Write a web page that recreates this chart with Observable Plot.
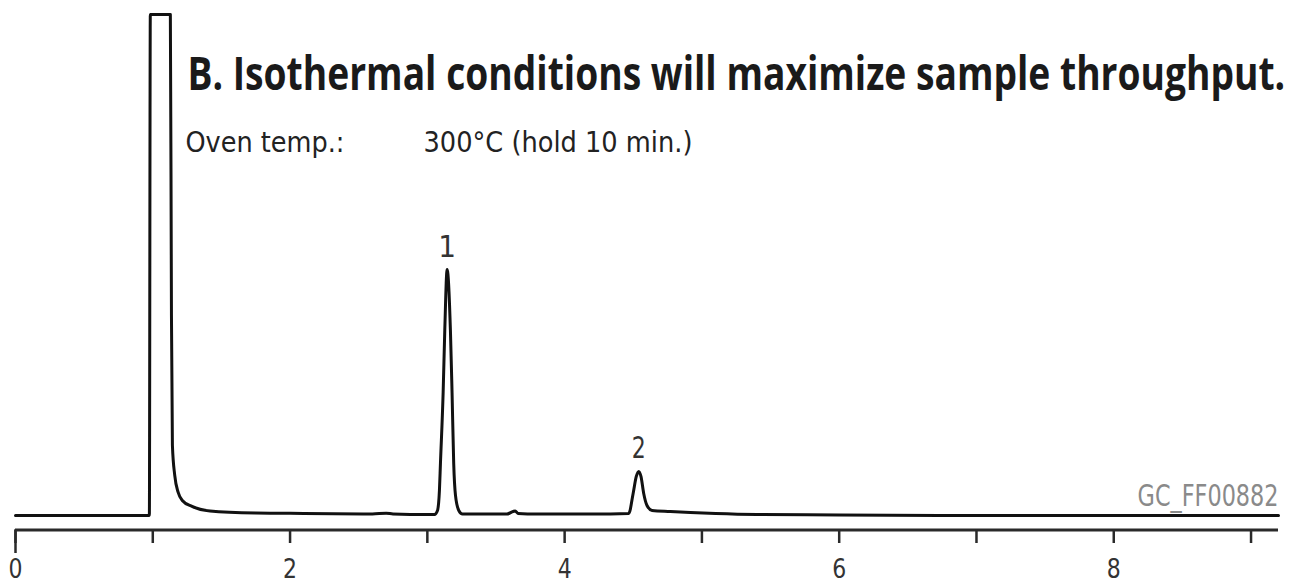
<!DOCTYPE html>
<html><head><meta charset="utf-8">
<script src="https://cdn.jsdelivr.net/npm/d3@7"></script>
<script src="https://cdn.jsdelivr.net/npm/@observablehq/plot@0.6"></script>
<style>
html,body{margin:0;padding:0;background:#fff;}
#chart{width:1299px;height:585px;overflow:hidden;}
</style></head><body><div id="chart"></div>
<script>
// Retention time (min) and detector signal (arbitrary units, 100 = off-scale solvent peak)
const time = [0.00, 0.50, 0.975, 0.982, 1.128, 1.136, 1.143, 1.160, 1.185, 1.215, 1.286, 1.417, 1.75, 2.10, 2.60, 2.70, 2.75, 3.00,
  3.052, 3.074, 3.088, 3.0954, 3.115, 3.127, 3.144, 3.168, 3.180, 3.192, 3.205, 3.229, 3.256,
  3.40, 3.58, 3.625, 3.64, 3.66, 3.80, 4.20, 4.467, 4.499, 4.522, 4.540, 4.556, 4.576, 4.600, 4.637, 4.77, 4.916, 5.10, 5.40, 6.00, 7.00, 8.00, 9.20];
const signal = [0.0, 0.0, 0.0, 100, 100, 40, 14, 8.0, 4.6, 3.0, 1.8, 0.9, 0.5, 0.4, 0.3, 0.45, 0.3, 0.2,
  0.2, 1.0, 5.0, 10.4, 24.5, 37, 49.1, 37, 24.5, 10.4, 4.0, 1.0, 0.3,
  0.3, 0.3, 0.8, 0.9, 0.4, 0.3, 0.3, 0.4, 4.4, 7.8, 8.8, 7.8, 4.4, 2.0, 1.0, 0.8, 0.6, 0.4, 0.2, 0.1, 0.0, 0.0, 0.0];
const peakTimes = [3.144, 4.540];
const peakHeights = [49.1, 8.8];
const peakLabels = ["1", "2"];
const tickValues = [0, 1, 2, 3, 4, 5, 6, 7, 8, 9];
const tickLabels = [0, 2, 4, 6, 8];
const titleText = "B. Isothermal conditions will maximize sample throughput.";
const condLabel = "Oven temp.:";
const condValue = "300\u00B0C (hold 10 min.)";
const figureCode = "GC_FF00882";

const xDomain = [0, 9.2];
const yDomain = [-2.9, 100];
const narrow = '"Liberation Sans Narrow","DejaVu Sans Condensed","Roboto Condensed","Liberation Sans",sans-serif';

const trace = time.map((t, i) => ({t, v: signal[i]}));
const peaks = peakTimes.map((t, i) => ({t, v: peakHeights[i], label: peakLabels[i]}));

const svg = Plot.plot({
  width: 1299, height: 585,
  marginLeft: 15, marginRight: 21, marginTop: 14, marginBottom: 55.5,
  x: {domain: xDomain, label: null},
  y: {domain: yDomain, axis: null},
  style: {fontFamily: narrow, background: "#fff", color: "#222", overflow: "visible"},
  marks: [
    Plot.ruleY([yDomain[0]], {stroke: "#2a2a2a", strokeWidth: 3}),
    Plot.axisX({ticks: tickValues, tickSize: 13.5, tickFormat: () => "", stroke: "#2a2a2a", strokeWidth: 2.5, label: null}),
    Plot.axisX({ticks: [0], tickSize: 23.5, tickFormat: () => "", stroke: "#2a2a2a", strokeWidth: 2.5, label: null}),
    Plot.axisX({ticks: tickLabels, tickSize: 0, tickPadding: 29, fontSize: 27, fill: "#333", fontFamily: narrow, label: null}),
    Plot.line(trace, {x: "t", y: "v", stroke: "#111", strokeWidth: 3, curve: "monotone-x"}),
    Plot.text(peaks, {x: "t", y: "v", text: "label", lineAnchor: "top", dy: -35, fontSize: 31, fill: "#333", fontFamily: narrow}),
    Plot.text([titleText], {frameAnchor: "top-left", textAnchor: "start", lineAnchor: "top", dx: 172, dy: 43,
      fontSize: 46, fontWeight: 700, fill: "#1a1a1a", fontFamily: '"Open Sans","Noto Sans",sans-serif'}),
    Plot.text([condLabel], {frameAnchor: "top-left", textAnchor: "start", lineAnchor: "top", dx: 170, dy: 117,
      fontSize: 29, fill: "#222", fontFamily: narrow}),
    Plot.text([condValue], {frameAnchor: "top-left", textAnchor: "start", lineAnchor: "top", dx: 408, dy: 117,
      fontSize: 29, fill: "#222", fontFamily: narrow}),
    Plot.text([figureCode], {frameAnchor: "top-right", textAnchor: "end", lineAnchor: "top", dx: 0, dy: 470,
      fontSize: 30, fill: "#8a8a8a", fontFamily: narrow})
  ]
});
document.getElementById("chart").append(svg);

// squeeze the text runs horizontally to the widths they occupy in the reference
const fitWidths = new Map([[titleText, 1098], [condLabel, 159], [condValue, 269], [figureCode, 141]]);
tickLabels.forEach(d => fitWidths.set(String(d), 14));
d3.select(svg).selectAll("text").each(function () {
  const w = fitWidths.get(this.textContent);
  if (!w) return;
  const bb = this.getBBox();
  if (!bb.width) return;
  const s = w / bb.width;
  const anchor = getComputedStyle(this).textAnchor || this.getAttribute("text-anchor") ||
    (this.parentNode && this.parentNode.getAttribute("text-anchor")) || "start";
  const lx = anchor === "end" ? bb.x + bb.width : anchor === "middle" ? bb.x + bb.width / 2 : bb.x;
  const m = this.parentNode.getCTM().inverse().multiply(this.getCTM());
  const px = m.a * lx + m.e;
  const prev = this.getAttribute("transform") || "";
  this.setAttribute("transform", `translate(${px},0) scale(${s},1) translate(${-px},0) ${prev}`);
});
</script>
</body></html>
